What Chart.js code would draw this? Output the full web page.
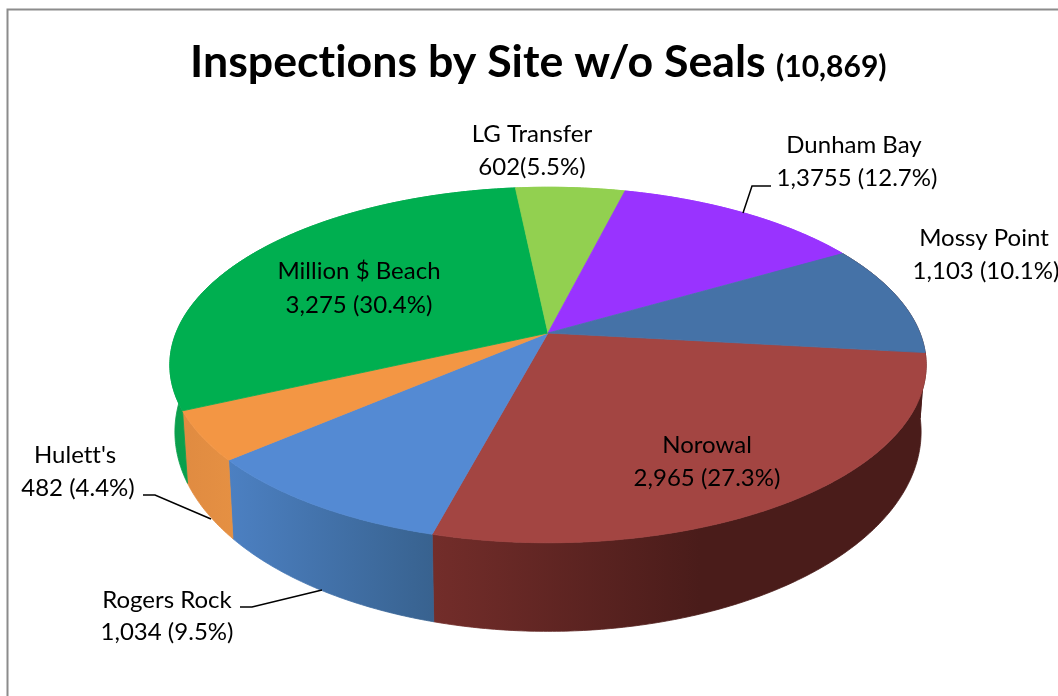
<!DOCTYPE html>
<html>
<head>
<meta charset="utf-8">
<title>Inspections by Site w/o Seals</title>
<script src="https://cdn.jsdelivr.net/npm/chart.js@4"></script>
<style>
body { margin: 0; background: #fff; }
canvas { display: block; }
</style>
</head>
<body>
<canvas id="pie" width="1058" height="696"></canvas>
<script>
const categories = ['Norowal', 'Rogers Rock', "Hulett's", 'Million $ Beach', 'LG Transfer', 'Dunham Bay', 'Mossy Point'];
const values = [2965, 1034, 482, 3275, 602, 1375, 1103];
const valueLabels = ['2,965 (27.3%)', '1,034 (9.5%)', '482 (4.4%)', '3,275 (30.4%)', '602(5.5%)', '1,3755 (12.7%)', '1,103 (10.1%)'];
const titleMain = 'Inspections by Site w/o Seals';
const titleTotal = '(10,869)';

const faceColors = ['#A34542', '#548AD3', '#F39644', '#00AF50', '#92D050', '#9933FF', '#4572A7'];
// mossy point's wall only shows as a sliver next to norowal, so it gets the same dark red
const wallColors = [
  ['#732D2A', '#4A1C1A'],
  ['#4C80C2', '#38628F'],
  ['#E08B41', '#E59043'],
  ['#0A9F4C', '#0AA84F'],
  ['#92D050', '#92D050'],
  ['#9933FF', '#9933FF'],
  ['#4A1C1A', '#4A1C1A']
];
// label centres: [name x, name y, value x, value y]
const labelSpots = [
  [707, 445, 707, 478],
  [167, 600, 167, 632],
  [75, 455, 78, 488],
  [359, 271, 359, 305],
  [532, 134, 532, 167],
  [854, 145, 857, 178],
  [984, 238, 986, 271]
];
const leaders = [
  [[743, 213], [752, 186], [771, 186]],
  [[143, 495], [155, 495], [211, 519]],
  [[240, 607], [252, 607], [322, 590]]
];

const topRim = { cx: 548, cy: 333, A: 372, a: 172, b: 0.18 };
const bottomRim = { cx: 548, cy: 396, A: 367, a: 193, b: 0.18 };

const project = (rim, t) => {
  const u = Math.cos(t);
  const v = Math.sin(t);
  const w = 1 - rim.b * v;
  return [rim.cx + rim.A * u / w, rim.cy + rim.a * v / w];
};

const rimPoints = (rim, start, end) => {
  const pts = [];
  const n = Math.max(2, Math.ceil((end - start) / 0.01));
  for (let i = 0; i <= n; i++) {
    pts.push(project(rim, start + (end - start) * i / n));
  }
  return pts;
};

const trace = (ctx, pts) => {
  pts.forEach((p, i) => {
    if (i === 0) ctx.moveTo(p[0], p[1]);
    else ctx.lineTo(p[0], p[1]);
  });
};

const tiltedPie = {
  id: 'tiltedPie',
  beforeDraw(chart) {
    const ctx = chart.ctx;
    ctx.save();
    ctx.strokeStyle = '#8C8C8C';
    ctx.lineWidth = 2;
    ctx.beginPath();
    ctx.moveTo(7.5, 696);
    ctx.lineTo(7.5, 9.5);
    ctx.lineTo(1058, 9.5);
    ctx.stroke();
    ctx.restore();
  },
  beforeDatasetDraw(chart, args) {
    const ctx = chart.ctx;
    const arcs = args.meta.data;
    ctx.save();
    ctx.lineWidth = 0.8;
    ctx.lineJoin = 'round';
    arcs.forEach((arc, i) => {
      const top = rimPoints(topRim, arc.startAngle, arc.endAngle);
      const bottom = rimPoints(bottomRim, arc.startAngle, arc.endAngle).reverse();
      const xs = top.concat(bottom).map(p => p[0]);
      const grad = ctx.createLinearGradient(Math.min(...xs), 0, Math.min(Math.max(...xs), 700), 0);
      grad.addColorStop(0, wallColors[i][0]);
      grad.addColorStop(1, wallColors[i][1]);
      ctx.fillStyle = grad;
      ctx.strokeStyle = grad;
      ctx.beginPath();
      trace(ctx, top.concat(bottom));
      ctx.closePath();
      ctx.fill();
      ctx.stroke();
    });
    arcs.forEach((arc, i) => {
      // thin stroke in the slice colour hides the seams between neighbouring faces
      ctx.fillStyle = faceColors[i];
      ctx.strokeStyle = faceColors[i];
      ctx.beginPath();
      trace(ctx, [[topRim.cx, topRim.cy]].concat(rimPoints(topRim, arc.startAngle, arc.endAngle)));
      ctx.closePath();
      ctx.fill();
      ctx.stroke();
    });
    ctx.restore();
    return false;
  },
  afterDraw(chart) {
    const ctx = chart.ctx;
    ctx.save();
    ctx.strokeStyle = '#000';
    ctx.lineWidth = 1.5;
    leaders.forEach(line => {
      ctx.beginPath();
      trace(ctx, line);
      ctx.stroke();
    });
    ctx.fillStyle = '#000';
    ctx.letterSpacing = '0.01px';
    ctx.textBaseline = 'middle';
    ctx.textAlign = 'center';
    ctx.font = '24px Lato';
    categories.forEach((name, i) => {
      const s = labelSpots[i];
      ctx.fillText(name, s[0], s[1]);
      ctx.fillText(valueLabels[i], s[2], s[3]);
    });
    ctx.textAlign = 'left';
    ctx.textBaseline = 'alphabetic';
    ctx.font = 'bold 44.7px Lato';
    ctx.fillText(titleMain, 190, 77);
    ctx.font = 'bold 30px Lato';
    ctx.fillText(titleTotal, 776, 77);
    ctx.restore();
  }
};

new Chart(document.getElementById('pie').getContext('2d'), {
  type: 'pie',
  data: {
    labels: categories,
    datasets: [{
      data: values,
      backgroundColor: faceColors,
      borderWidth: 0
    }]
  },
  options: {
    responsive: false,
    animation: false,
    rotation: 96.4,
    plugins: {
      legend: { display: false },
      tooltip: { enabled: false }
    }
  },
  plugins: [tiltedPie]
});
</script>
</body>
</html>
